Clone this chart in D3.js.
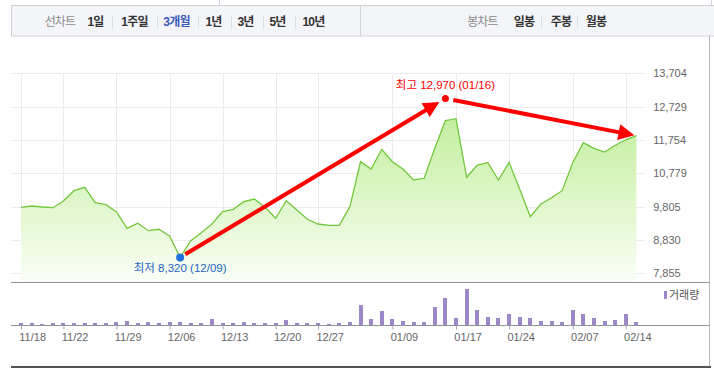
<!DOCTYPE html>
<meta charset="utf-8">
<style>
    body { margin: 0; background: #fff; }
    text { font-family: "Liberation Sans", "Noto Sans CJK KR", sans-serif; }
    .tab { font-size: 12px; font-weight: bold; fill: #333; letter-spacing: -0.8px; }
    .tab.dim { font-weight: normal; fill: #8a8a8a; }
    .tab.on { fill: #3a59b8; }
    .axis text { font-size: 11px; fill: #666; }
    .axis path { display: none; }
    .grid line { stroke: #ebebeb; stroke-width: 1; }
    .vol { fill: #9c87c8; }
</style>

<svg width="714" height="368"></svg>

<script src="https://cdn.jsdelivr.net/npm/d3@7"></script>
<script>

    // DATA

    var closes = [9785, 9823, 9794, 9774, 9970, 10271, 10370, 9920, 9862, 9648,
        9171, 9318, 9101, 9142, 8946, 8320, 8809, 9043, 9297, 9657,
        9727, 9949, 10028, 9785, 9464, 9979, 9707, 9434, 9297, 9259,
        9259, 9803, 11119, 10906, 11482, 11119, 10906, 10584, 10634, 11511,
        12319, 12376, 10663, 11022, 11090, 10584, 11100, 10312, 9511, 9882,
        10066, 10271, 11090, 11675, 11511, 11400, 11600, 11760, 11880];

    var volumes = [180, 185, 95, 175, 180, 170, 185, 180, 175, 270,
        360, 175, 265, 180, 270, 280, 180, 175, 540, 185,
        180, 265, 180, 175, 180, 450, 185, 175, 180, 95,
        180, 270, 1800, 540, 1260, 540, 360, 270, 265, 1620,
        2430, 630, 3240, 1350, 720, 630, 990, 720, 630, 360,
        355, 270, 1350, 990, 630, 360, 450, 990, 270];

    var tickIdx = [0, 4, 9, 14, 19, 24, 28, 35, 41, 46, 52, 57];
    var tickLabels = ["11/18", "11/22", "11/29", "12/06", "12/13", "12/20",
        "12/27", "01/09", "01/17", "01/24", "02/07", "02/14"];

    var yTicks = [7855, 8830, 9805, 10779, 11754, 12729, 13704];

    var lowIdx = 15, lowVal = 8320, lowDate = "12/09";
    var highIdx = 40, highVal = 12970, highDate = "01/16";

    var periodTabs = ["1일", "1주일", "3개월", "1년", "3년", "5년", "10년"];
    var candleTabs = ["일봉", "주봉", "월봉"];

    // SETUP

    var svg = d3.select("svg");

    var x = d3.scaleLinear().domain([0, closes.length - 1]).range([21, 636.4]),
        y = d3.scaleLinear().domain([yTicks[0], yTicks[yTicks.length - 1]]).range([273.3, 73.3]),
        v = d3.scaleLinear().domain([0, d3.max(volumes)]).range([325, 289]);

    var plotTop = 73.3, plotBottom = 282.5, left = 11, right = 709.5;

    // TOP MENU BAR

    svg.append("rect")
        .attr("x", left + 0.5).attr("y", 5.5)
        .attr("width", 720).attr("height", 30.5)
        .attr("fill", "#f4f5f8").attr("stroke", "#cfd1d6");
    svg.append("line").attr("x1", 219.5).attr("x2", 219.5).attr("y1", 0).attr("y2", 5)
        .attr("stroke", "#cfd1d6");
    svg.append("line").attr("x1", 711.5).attr("x2", 711.5).attr("y1", 0).attr("y2", 5)
        .attr("stroke", "#cfd1d6");
    svg.append("line").attr("x1", 360.5).attr("x2", 360.5).attr("y1", 6).attr("y2", 36)
        .attr("stroke", "#cfd1d6");

    var tabX = [95.5, 134.5, 176.5, 213.5, 245.5, 277.5, 313.5],
        sepX = [112.5, 157.5, 198.5, 231.5, 263.5, 295.5],
        candleX = [524, 561, 596],
        candleSep = [541.5, 577.5];

    svg.append("text").attr("class", "tab dim").attr("x", 60).attr("y", 26)
        .attr("text-anchor", "middle").text("선차트");
    svg.selectAll(".ptab").data(periodTabs).enter().append("text")
        .attr("class", function (d) { return d === "3개월" ? "tab on" : "tab"; })
        .attr("x", function (d, i) { return tabX[i]; })
        .attr("y", 26).attr("text-anchor", "middle")
        .text(function (d) { return d; });
    svg.append("text").attr("class", "tab dim").attr("x", 482.5).attr("y", 26)
        .attr("text-anchor", "middle").text("봉차트");
    svg.selectAll(".ctab").data(candleTabs).enter().append("text")
        .attr("class", "tab")
        .attr("x", function (d, i) { return candleX[i]; })
        .attr("y", 26).attr("text-anchor", "middle")
        .text(function (d) { return d; });
    svg.selectAll(".sep").data(sepX.concat(candleSep)).enter().append("line")
        .attr("x1", function (d) { return d; }).attr("x2", function (d) { return d; })
        .attr("y1", 16).attr("y2", 28)
        .attr("stroke", "#dcdde0");

    // GRID

    var grid = svg.append("g").attr("class", "grid");
    grid.selectAll(".h").data(yTicks).enter().append("line")
        .attr("x1", left).attr("x2", 645)
        .attr("y1", function (d) { return Math.round(y(d)) + 0.5; })
        .attr("y2", function (d) { return Math.round(y(d)) + 0.5; });
    grid.selectAll(".v").data(tickIdx).enter().append("line")
        .attr("x1", function (d) { return Math.round(x(d)) + 0.5; })
        .attr("x2", function (d) { return Math.round(x(d)) + 0.5; })
        .attr("y1", plotTop).attr("y2", plotBottom);

    // PRICE AREA

    var grad = svg.append("defs").append("linearGradient")
        .attr("id", "fillGrad").attr("gradientUnits", "userSpaceOnUse")
        .attr("x1", 0).attr("x2", 0).attr("y1", plotTop).attr("y2", plotBottom);
    grad.append("stop").attr("offset", "0%").attr("stop-color", "#b4ea86");
    grad.append("stop").attr("offset", "100%").attr("stop-color", "#fafef6");

    var area = d3.area()
        .x(function (d, i) { return x(i); })
        .y0(plotBottom)
        .y1(function (d) { return y(d); });
    var line = d3.line()
        .x(function (d, i) { return x(i); })
        .y(function (d) { return y(d); });

    svg.append("path").datum(closes).attr("d", area).attr("fill", "url(#fillGrad)");
    svg.append("path").datum(closes).attr("d", line)
        .attr("fill", "none").attr("stroke", "#72c63c").attr("stroke-width", 1.3);

    // FRAME

    svg.append("line").attr("x1", left).attr("x2", right).attr("y1", plotBottom).attr("y2", plotBottom)
        .attr("stroke", "#8e939b");
    svg.append("line").attr("x1", right).attr("x2", right).attr("y1", 36).attr("y2", 368)
        .attr("stroke", "#b5b8bd");
    svg.append("line").attr("x1", left).attr("x2", right).attr("y1", 325.5).attr("y2", 325.5)
        .attr("stroke", "#8e939b");
    svg.append("rect").attr("x", left).attr("y", 366).attr("width", 700).attr("height", 2)
        .attr("fill", "#555");

    // Y AXIS

    svg.append("g").attr("class", "axis")
        .attr("transform", "translate(648,0)")
        .call(d3.axisRight(y).tickValues(yTicks).tickSize(0).tickFormat(d3.format(",")))
        .selectAll("text").attr("dx", "0.2em");

    // VOLUME

    svg.selectAll(".vol").data(volumes).enter().append("rect")
        .attr("class", "vol")
        .attr("x", function (d, i) { return Math.round(x(i)) - 2; })
        .attr("width", 4)
        .attr("y", function (d) { return v(d); })
        .attr("height", function (d) { return 325 - v(d); });

    svg.append("rect").attr("class", "vol").attr("x", 664).attr("y", 291).attr("width", 3).attr("height", 8);
    svg.append("text").attr("x", 669).attr("y", 299)
        .style("font-size", "11px").attr("fill", "#555").text("거래량");

    // X AXIS

    var xa = svg.append("g").attr("class", "axis")
        .attr("transform", "translate(0,325.5)")
        .call(d3.axisBottom(x).tickValues(tickIdx).tickSize(4)
            .tickFormat(function (d, i) { return tickLabels[i]; }));
    xa.selectAll("line").attr("stroke", "#aaa");
    xa.selectAll("text").attr("text-anchor", "start").attr("dx", "-0.2em").attr("y", 8);

    // HIGH / LOW ANNOTATIONS

    var lowP = [x(lowIdx), y(lowVal)], highP = [x(highIdx), y(highVal)],
        lastP = [x(closes.length - 1), y(closes[closes.length - 1])];

    function arrow(a, b, startOff, endOff) {
        var dx = b[0] - a[0], dy = b[1] - a[1], len = Math.sqrt(dx * dx + dy * dy),
            ux = dx / len, uy = dy / len,
            s = [a[0] + ux * startOff, a[1] + uy * startOff],
            t = [b[0] - ux * endOff, b[1] - uy * endOff],
            base = [t[0] - ux * 16, t[1] - uy * 16],
            hw = 8;
        svg.append("line")
            .attr("x1", s[0]).attr("y1", s[1]).attr("x2", base[0] + ux * 2).attr("y2", base[1] + uy * 2)
            .attr("stroke", "#ff0000").attr("stroke-width", 4);
        svg.append("polygon")
            .attr("points", [t, [base[0] - uy * hw, base[1] + ux * hw], [base[0] + uy * hw, base[1] - ux * hw]]
                .map(function (p) { return p.join(","); }).join(" "))
            .attr("fill", "#ff0000");
    }

    arrow(lowP, highP, 6, 7);
    arrow(highP, lastP, 8, 2);

    svg.append("circle").attr("cx", lowP[0]).attr("cy", lowP[1]).attr("r", 4).attr("fill", "#1f6fdc");
    svg.append("text").attr("x", lowP[0]).attr("y", lowP[1] + 15)
        .attr("text-anchor", "middle").style("font-size", "11.5px").attr("fill", "#1f63c6")
        .text("최저 " + d3.format(",")(lowVal) + " (" + lowDate + ")");

    svg.append("circle").attr("cx", highP[0]).attr("cy", highP[1]).attr("r", 3.5).attr("fill", "#ff0000");
    svg.append("text").attr("x", highP[0]).attr("y", highP[1] - 9)
        .attr("text-anchor", "middle").style("font-size", "11.5px").attr("fill", "#ff0000")
        .text("최고 " + d3.format(",")(highVal) + " (" + highDate + ")");

</script>
